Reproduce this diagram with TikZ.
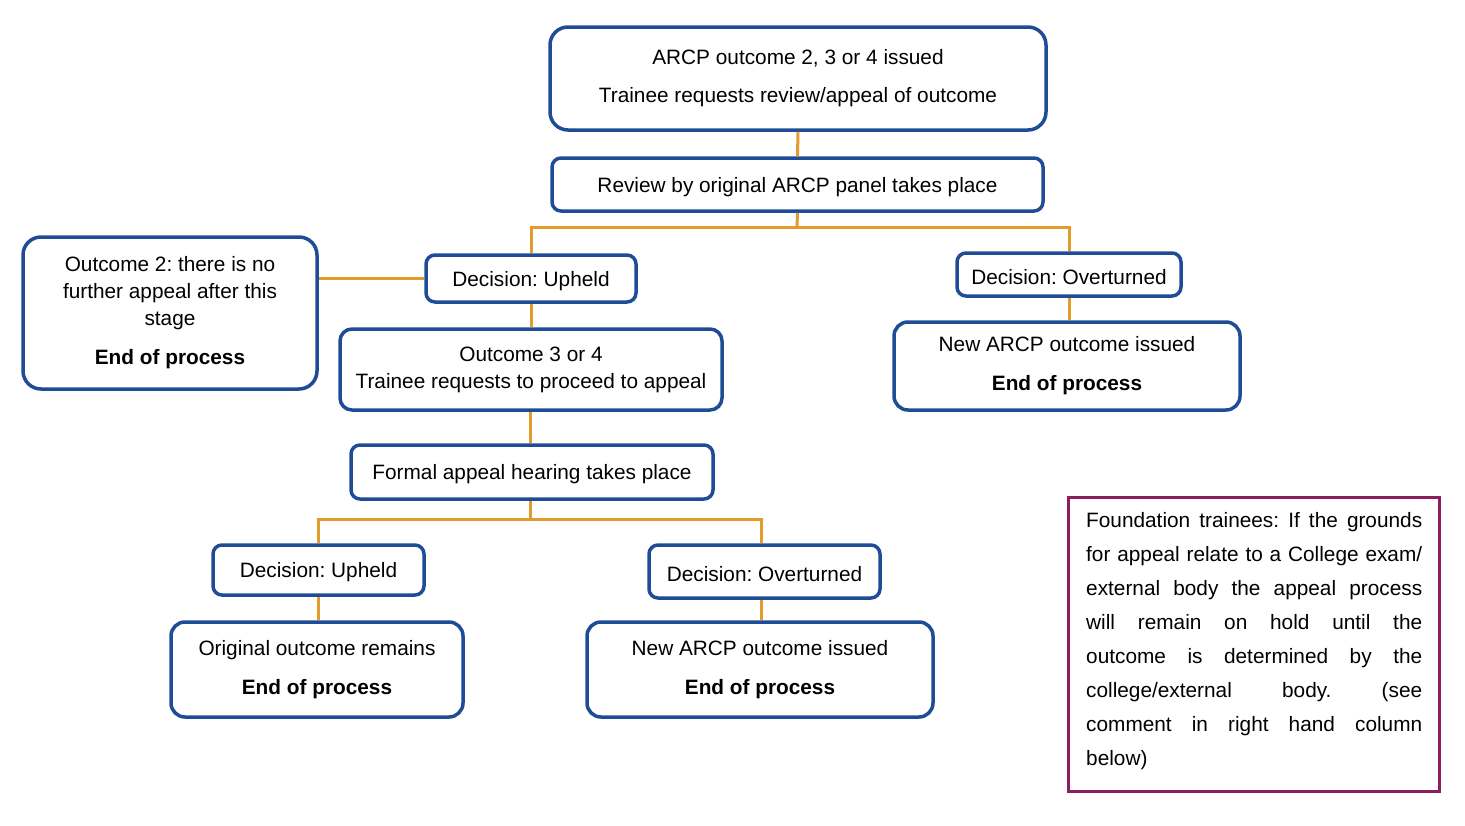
\documentclass[tikz,border=0pt]{standalone}
\usepackage{fontspec}
\setmainfont{Liberation Sans}
\definecolor{bblue}{HTML}{1E4C96}
\definecolor{borange}{HTML}{E39B2B}
\definecolor{bpurple}{HTML}{8C1D5E}
\newcommand{\fsz}{\fontsize{20.8}{27}\selectfont\frenchspacing}
\tikzset{
  boxbase/.style={draw=bblue, line width=3.5pt, align=center, inner sep=0pt, font=\fsz,
    execute at begin node={\rule{0pt}{19.5pt}}},
  bigbox/.style={boxbase, rounded corners=18pt},
  smallbox/.style={boxbase, rounded corners=9pt},
  conn/.style={draw=borange, line width=3pt},
  notebox/.style={draw=bpurple, line width=3pt, inner sep=0pt}
}
\newcommand{\js}[1]{\makebox[336pt][s]{#1}}
\begin{document}
\begin{tikzpicture}[x=1pt,y=-1pt]
\useasboundingbox (0,0) rectangle (1465,825);
\coordinate (j1) at (797,227);
\coordinate (j2) at (530,519);
% boxes
\node[bigbox, minimum width=496pt, minimum height=103pt] (top) at (798,78.5)
  {ARCP outcome 2, 3 or 4 issued\\[11pt]Trainee requests review/appeal of outcome};
\node[smallbox, minimum width=491pt, minimum height=53pt] (review) at (797.5,184.5)
  {Review by original ARCP panel takes place};
\node[smallbox, minimum width=210pt, minimum height=47pt] (up1) at (531,278.5)
  {Decision: Upheld};
\node[smallbox, minimum width=224pt, minimum height=43pt] (ov1) at (1069,274.5)
  {Decision: Overturned};
\node[bigbox, minimum width=294pt, minimum height=152pt] (out2) at (170,313)
  {Outcome 2: there is no\\further appeal after this\\stage\\[12pt]\textbf{End of process}};
\node[bigbox, rounded corners=14pt, minimum width=346pt, minimum height=88pt] (new1) at (1067,366)
  {New ARCP outcome issued\\[12pt]\textbf{End of process}};
\node[bigbox, rounded corners=12pt, minimum width=382pt, minimum height=81pt] (out34) at (531,369.5)
  {Outcome 3 or 4\\Trainee requests to proceed to appeal};
\node[smallbox, minimum width=362pt, minimum height=54pt] (formal) at (532,472)
  {Formal appeal hearing takes place};
\node[smallbox, minimum width=211pt, minimum height=50pt] (up2) at (318.5,570)
  {Decision: Upheld};
\node[smallbox, minimum width=231pt, minimum height=53pt] (ov2) at (764.5,571.5)
  {Decision: Overturned};
\node[bigbox, rounded corners=14pt, minimum width=292pt, minimum height=95pt] (orig) at (317,669.5)
  {Original outcome remains\\[12pt]\textbf{End of process}};
\node[bigbox, rounded corners=14pt, minimum width=346pt, minimum height=95pt] (new2) at (760,669.5)
  {New ARCP outcome issued\\[12pt]\textbf{End of process}};
% note
\node[notebox, minimum width=371pt, minimum height=294pt] (note) at (1253.5,644) {};
\node[font=\fontsize{20.8}{34}\selectfont\frenchspacing, align=left, inner sep=0pt, anchor=north west] (notetext) at (1086,512)
  {\js{Foundation trainees: If the grounds}\\
   \js{for appeal relate to a College exam/}\\
   \js{external body the appeal process}\\
   \js{will remain on hold until the}\\
   \js{outcome is determined by the}\\
   \js{college/external body. (see}\\
   \js{comment in right hand column}\\
   below)};
% connectors
\draw[conn] (top.south) -- (review.north);
\draw[conn] (review.south) -- (j1);
\draw[conn] (up1.north) |- (j1) -| (ov1.north);
\draw[conn] (out2.east |- up1.west) -- (up1.west);
\draw[conn] (up1.south) -- (out34.north -| up1.south);
\draw[conn] (ov1.south) -- (new1.north -| ov1.south);
\draw[conn] (out34.south -| j2) -- (formal.north -| j2);
\draw[conn] (formal.south -| j2) -- (j2);
\draw[conn] (up2.north) |- (j2) -| ([xshift=-3pt]ov2.north);
\draw[conn] (up2.south) -- (orig.north -| up2.south);
\draw[conn] ([xshift=-3pt]ov2.south) -- ([xshift=-3pt]new2.north -| ov2.south);
\end{tikzpicture}
\end{document}
